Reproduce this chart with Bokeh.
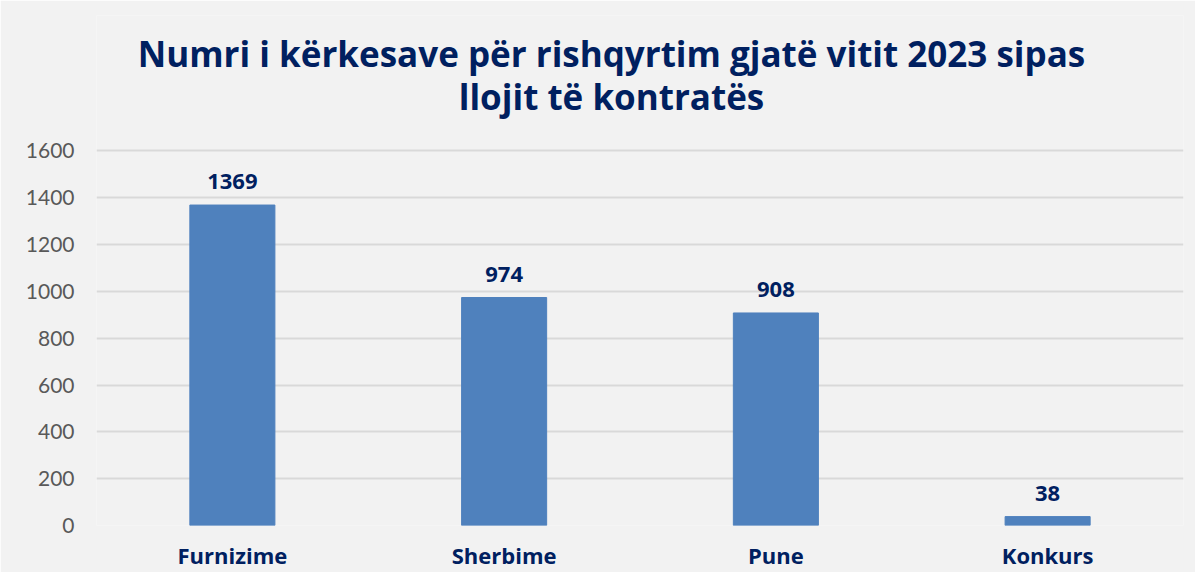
from bokeh.plotting import figure
from bokeh.models import ColumnDataSource, FactorRange, Range1d, FixedTicker, LabelSet, Label
from bokeh.core.properties import value
from bokeh.embed import file_html
from bokeh.resources import INLINE

categories = ["Furnizime", "Sherbime", "Pune", "Konkurs"]
values = [1369, 974, 908, 38]
y_ticks = [0, 200, 400, 600, 800, 1000, 1200, 1400, 1600]
title_lines = ["Numri i kërkesave për rishqyrtim gjatë vitit 2023 sipas", "llojit të kontratës"]

NAVY = "#002060"
BG = "#f2f2f2"

# layout (canvas pixels)
FRAME_TOP, FRAME_BOTTOM, FRAME_LEFT, FRAME_RIGHT = 15, 527, 96, 1183
W, H = 1195, 572
Y_TOP_TICK_PX = 151  # pixel row of the 1600 gridline
y_end = 1600 * (FRAME_BOTTOM - FRAME_TOP) / (FRAME_BOTTOM - Y_TOP_TICK_PX)

src = ColumnDataSource(dict(cat=categories, val=values, lab=[str(v) for v in values]))

p = figure(
    x_range=FactorRange(*categories, range_padding=0),
    y_range=Range1d(0, y_end),
    width=W, height=H,
    output_backend="svg", toolbar_location=None,
    min_border_left=FRAME_LEFT, min_border_right=W - FRAME_RIGHT,
    min_border_top=FRAME_TOP, min_border_bottom=H - FRAME_BOTTOM,
    background_fill_color=BG, border_fill_color=BG,
)
p.outline_line_color = None

p.vbar(x="cat", top="val", width=0.313, source=src, fill_color="#4f81bd", line_color="#4f81bd")

labels = LabelSet(x="cat", y="val", text="lab", source=src, text_align="center",
                  text_baseline="alphabetic", y_offset=16,
                  text_font=value("Open Sans"), text_font_style="bold",
                  text_font_size="22px", text_color=NAVY)
p.add_layout(labels)

p.xgrid.grid_line_color = None
p.ygrid.grid_line_color = "#d9d9d9"
p.ygrid.grid_line_width = 2
p.yaxis.ticker = FixedTicker(ticks=y_ticks)
p.ygrid.ticker = FixedTicker(ticks=y_ticks)

for ax in (p.xaxis, p.yaxis):
    ax.axis_line_color = None
    ax.major_tick_line_color = None
    ax.minor_tick_line_color = None
    ax.major_tick_out = 0
    ax.major_tick_in = 0

p.yaxis.major_label_text_font = "Lato"
p.yaxis.major_label_text_font_size = "21px"
p.yaxis.major_label_text_color = "#595959"
p.yaxis.major_label_standoff = 22

p.xaxis.major_label_text_font = "Open Sans"
p.xaxis.major_label_text_font_style = "bold"
p.xaxis.major_label_text_font_size = "22px"
p.xaxis.major_label_text_color = NAVY
p.xaxis.major_label_standoff = 14

# title, centered on the whole chart box (x ~ 611 px)
TITLE_CX = 611
for i, t in enumerate(title_lines):
    base = 55 + 43 * i
    p.add_layout(Label(x=TITLE_CX - FRAME_LEFT, y=FRAME_BOTTOM - base,
                       x_units="screen", y_units="screen", text=t,
                       text_align="center", text_baseline="alphabetic",
                       text_font="Open Sans", text_font_style="bold", text_font_size="35px",
                       text_color=NAVY))

open("out.html", "w").write(file_html(p, INLINE))
